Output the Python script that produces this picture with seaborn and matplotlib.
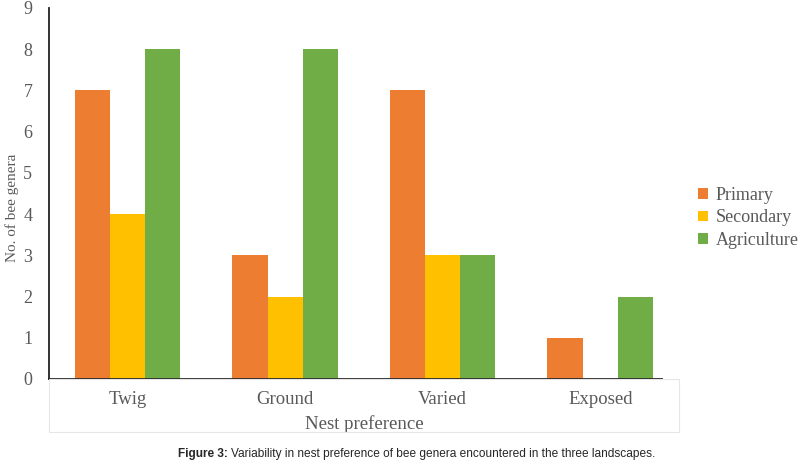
import pandas as pd
import matplotlib.pyplot as plt
import seaborn as sns
from matplotlib.patches import Rectangle

# Nest preference data
nests = ['Twig', 'Ground', 'Varied', 'Exposed']
primary = [7, 3, 7, 1]
secondary = [4, 2, 3, 0]
agriculture = [8, 8, 3, 2]
landscapes = ['Primary', 'Secondary', 'Agriculture']
colours = ['#ED7D31', '#FFC000', '#70AD47']

df = pd.DataFrame({'nest': nests * 3,
                   'landscape': [l for l in landscapes for _ in nests],
                   'count': primary + secondary + agriculture})

sns.set_style('white')
plt.rcParams['font.family'] = ['Liberation Serif', 'DejaVu Serif']

fig = plt.figure(figsize=(8, 4.66), dpi=100)
ax = fig.add_axes([0.0612, 0.1867, 0.7875, 0.7965])

# light frame under the category labels
fig.patches.append(Rectangle((0.0612, 0.073), 0.7875, 0.114, transform=fig.transFigure,
                             fill=False, edgecolor='#e6e6e6', linewidth=0.8, zorder=0))

sns.barplot(data=df, x='nest', y='count', hue='landscape', palette=colours,
            width=0.67, saturation=1, linewidth=0, ax=ax)

ax.set_ylim(0, 9)
ax.set_yticks(range(10))
ax.set_xlim(-0.5, 3.5)
ax.tick_params(axis='y', labelsize=13, labelcolor='#595959', length=0, pad=12)
ax.tick_params(axis='x', labelsize=13.5, labelcolor='#595959', length=0, pad=9)
ax.set_xlabel('Nest preference', fontsize=13.5, color='#595959', labelpad=5)
ax.set_ylabel('')
fig.text(0.015, 0.555, 'No. of bee genera', fontsize=11, color='#595959',
         rotation=90, ha='center', va='center')
for s in ['top', 'right']:
    ax.spines[s].set_visible(False)
ax.spines['left'].set_color('#222222')
ax.spines['bottom'].set_color('#222222')
ax.spines['left'].set_linewidth(1.3)
ax.spines['bottom'].set_linewidth(1.3)
ax.spines['bottom'].set_bounds(-0.5, 3.39)

ax.legend(loc='center left', bbox_to_anchor=(1.005, 0.434), frameon=False,
          fontsize=13, handlelength=0.55, handleheight=0.55, handletextpad=0.4,
          labelspacing=0.3, labelcolor='#595959')

# caption
fig.text(0.222, 0.019, 'Figure 3:', fontsize=8.5, fontweight='bold', family='Liberation Sans')
fig.text(0.289, 0.019, 'Variability in nest preference of bee genera encountered in the three landscapes.',
         fontsize=8.55, family='Liberation Sans')

fig.savefig('out.png', dpi=100)
